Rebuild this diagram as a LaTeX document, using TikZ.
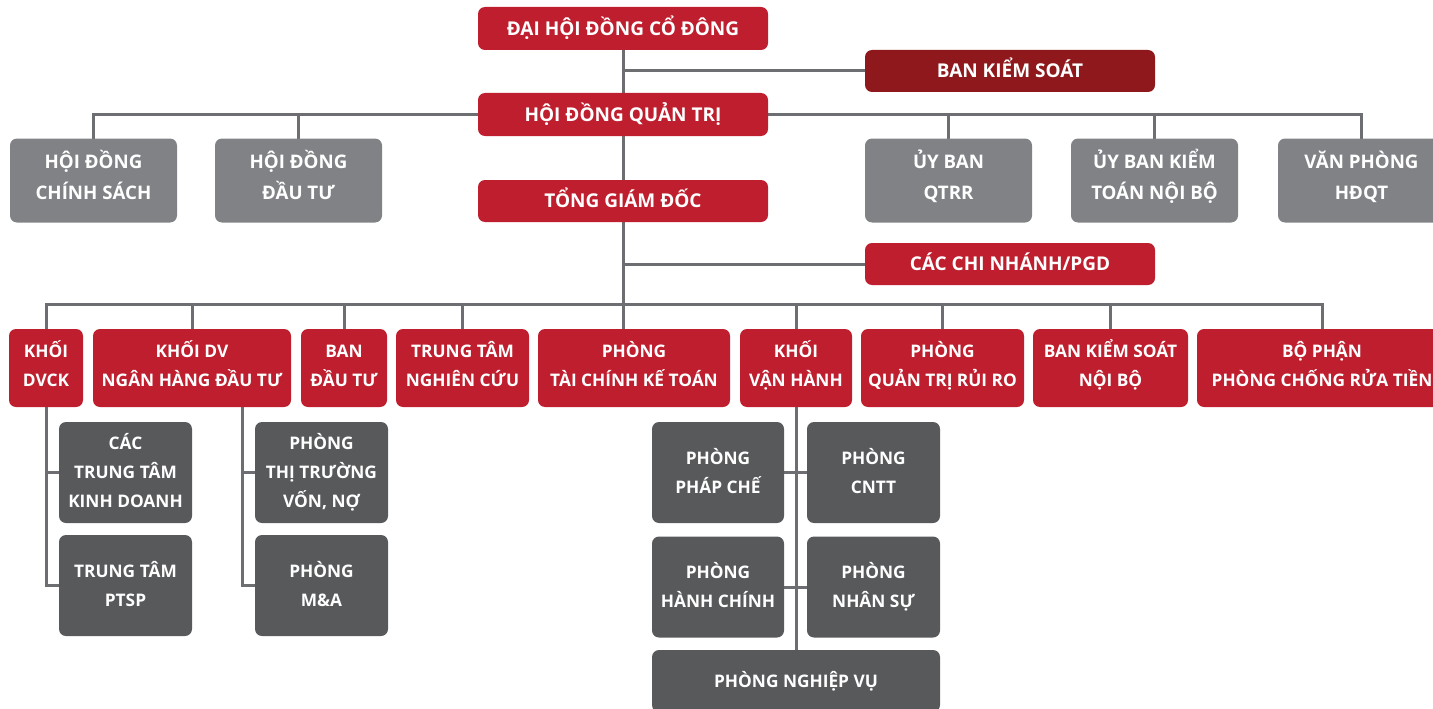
\documentclass[tikz,border=0pt]{standalone}
\usepackage{fontspec}
\setmainfont{Open Sans}
\usetikzlibrary{backgrounds}
\definecolor{cred}{HTML}{BE1E2D}
\definecolor{cdred}{HTML}{8E181B}
\definecolor{cgray}{HTML}{808285}
\definecolor{cdgray}{HTML}{58595B}
\definecolor{cline}{HTML}{6D6E71}
\tikzset{
  base/.style={rounded corners=7pt, text=white, align=center, inner sep=0pt,
    font=\bfseries\fontsize{17.3}{29}\selectfont, text height=12.4pt, text depth=0pt},
  topbox/.style={font=\bfseries\fontsize{19}{29}\selectfont, text height=13.6pt, text depth=0pt},
  redbox/.style={base, fill=cred},
  darkredbox/.style={base, fill=cdred},
  graybox/.style={base, fill=cgray, font=\bfseries\fontsize{18.7}{31}\selectfont, text height=44.4pt, text depth=7pt},
  dgraybox/.style={base, fill=cdgray},
  rowthree/.style={text height=41.4pt, text depth=5pt},
  twol/.style={text height=41.4pt, text depth=0pt},
  threel/.style={text height=70.4pt, text depth=0pt},
  wh/.style 2 args={minimum width=#1pt, minimum height=#2pt},
  conn/.style={draw=cline, line width=3pt, line cap=rect},
}
\begin{document}
\begin{tikzpicture}[x=1pt,y=-1pt]
\useasboundingbox (0,0) rectangle (1433,709);
\clip (0,0) rectangle (1433,709);
% top chain
\node[redbox, topbox, wh={290}{43}] (dhdcd) at (623,28.5) {ĐẠI HỘI ĐỒNG CỔ ĐÔNG};
\node[darkredbox, topbox, wh={290}{42}] (bks) at (1010,71) {BAN KIỂM SOÁT};
\node[redbox, topbox, wh={290}{43}] (hdqt) at (623,114.5) {HỘI ĐỒNG QUẢN TRỊ};
\node[redbox, topbox, wh={290}{42}] (tgd) at (623,201) {TỔNG GIÁM ĐỐC};
\node[redbox, topbox, wh={290}{42}] (cn) at (1010,264) {CÁC CHI NHÁNH/PGD};
% row 2
\node[graybox, wh={167}{84}] (hdcs) at (93.5,180.5) {HỘI ĐỒNG\\CHÍNH SÁCH};
\node[graybox, wh={167}{84}] (hddt) at (298.5,180.5) {HỘI ĐỒNG\\ĐẦU TƯ};
\node[graybox, wh={167}{84}] (ubqtrr) at (948.5,180.5) {ỦY BAN\\QTRR};
\node[graybox, wh={167}{84}] (ubktnb) at (1154.5,180.5) {ỦY BAN KIỂM\\TOÁN NỘI BỘ};
\node[graybox, wh={167}{84}] (vphdqt) at (1361.5,180.5) {VĂN PHÒNG\\HĐQT};
% row 3
\node[redbox, rowthree, wh={74}{78}] (dvck) at (46,368) {KHỐI\\DVCK};
\node[redbox, rowthree, wh={198}{78}] (nhdt) at (192,368) {KHỐI DV\\NGÂN HÀNG ĐẦU TƯ};
\node[redbox, rowthree, wh={86}{78}] (bdt) at (344,368) {BAN\\ĐẦU TƯ};
\node[redbox, rowthree, wh={133}{78}] (ttnc) at (462.5,368) {TRUNG TÂM\\NGHIÊN CỨU};
\node[redbox, rowthree, wh={192}{78}] (tckt) at (634,368) {PHÒNG\\TÀI CHÍNH KẾ TOÁN};
\node[redbox, rowthree, wh={112}{78}] (kvh) at (796,368) {KHỐI\\VẬN HÀNH};
\node[redbox, rowthree, wh={163}{78}] (qtrr) at (942.5,368) {PHÒNG\\QUẢN TRỊ RỦI RO};
\node[redbox, rowthree, wh={155}{78}] (ksnb) at (1110.5,368) {BAN KIỂM SOÁT\\NỘI BỘ};
\node[redbox, rowthree, wh={250}{78}] (pcrt) at (1322,368) {BỘ PHẬN\\PHÒNG CHỐNG RỬA TIỀN};
% row 4
\node[dgraybox, threel, wh={133}{101}] (cttkd) at (125.5,472.5) {CÁC\\TRUNG TÂM\\KINH DOANH};
\node[dgraybox, twol, wh={133}{101}] (ttptsp) at (125.5,585.5) {TRUNG TÂM\\PTSP};
\node[dgraybox, threel, wh={133}{101}] (ttvn) at (321.5,472.5) {PHÒNG\\THỊ TRƯỜNG\\VỐN, NỢ};
\node[dgraybox, twol, wh={133}{101}] (ma) at (321.5,585.5) {PHÒNG\\M\&A};
\node[dgraybox, twol, wh={132}{101}] (phapche) at (718,472.5) {PHÒNG\\PHÁP CHẾ};
\node[dgraybox, twol, wh={133}{101}] (cntt) at (873.5,472.5) {PHÒNG\\CNTT};
\node[dgraybox, twol, wh={132}{101}] (hanhchinh) at (718,587) {PHÒNG\\HÀNH CHÍNH};
\node[dgraybox, twol, wh={133}{101}] (nhansu) at (873.5,587) {PHÒNG\\NHÂN SỰ};
\node[dgraybox, wh={288}{62}] (nghiepvu) at (796,681) {PHÒNG NGHIỆP VỤ};
\coordinate (busy) at (0,304);
\coordinate (nj) at ([xshift=50pt]nhdt.south);
\begin{pgfonlayer}{background}
  \draw[conn] (dhdcd.south) -- (tckt.north -| dhdcd.south);
  \draw[conn] (bks.west) -- (bks.west -| dhdcd.south);
  \draw[conn] (cn.west) -- (cn.west -| dhdcd.south);
  \draw[conn] (hdcs.north |- hdqt.center) -- (vphdqt.north |- hdqt.center);
  \foreach \n in {hdcs,hddt,ubqtrr,ubktnb,vphdqt}
    \draw[conn] (\n.north) -- (\n.north |- hdqt.center);
  \draw[conn] (dvck.north |- busy) -- (pcrt.north |- busy);
  \foreach \n in {dvck,nhdt,bdt,ttnc,kvh,qtrr,ksnb,pcrt}
    \draw[conn] (\n.north) -- (\n.north |- busy);
  \draw[conn] (dvck.south) |- (ttptsp.west);
  \draw[conn] (dvck.south |- cttkd.west) -- (cttkd.west);
  \draw[conn] (nj) |- (ma.west);
  \draw[conn] (nj |- ttvn.west) -- (ttvn.west);
  \draw[conn] (kvh.south) -- (nghiepvu.north);
  \draw[conn] (phapche.east) -- (cntt.west);
  \draw[conn] (hanhchinh.east) -- (nhansu.west);
\end{pgfonlayer}
\end{tikzpicture}
\end{document}
